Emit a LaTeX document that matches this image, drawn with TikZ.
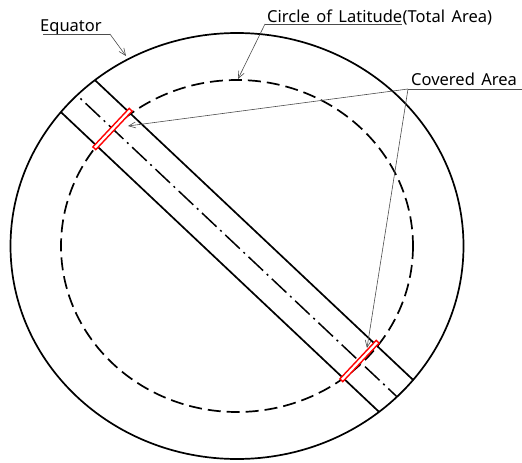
\documentclass[tikz,border=0pt]{standalone}
\usepackage{fontspec}
\setmainfont{Noto Sans}
\usetikzlibrary{arrows.meta,positioning,calc}
\tikzset{
  lbl/.style  ={font=\fontsize{16.5}{19}\selectfont, inner sep=0pt},
  globe/.style={line width=1.7pt},
  lat/.style  ={line width=1.7pt, dash pattern=on 13pt off 6pt},
  band/.style ={line width=1.7pt},
  axis/.style ={line width=1.5pt, dash pattern=on 20pt off 5pt on 2pt off 5pt},
  cover/.style={draw=red, line width=1.4pt, fill=white, minimum width=53pt, minimum height=4pt, inner sep=0pt, rotate=46.7},
  lead/.style ={draw=black!70, line width=0.6pt},
  tip/.style  ={lead, -{Straight Barb[length=7pt, width=6pt]}},
}
\newcommand{\gap}{\hspace{6.5pt}}

\begin{document}
\begin{tikzpicture}[x=1pt, y=-1pt]
  \useasboundingbox (0,0) rectangle (522,463);
  \coordinate (c) at (237,246);

  % equator and latitude circle
  \draw[globe] (c) ellipse [x radius=226.5, y radius=213];
  \draw[lat] (c) ellipse [x radius=176, y radius=166];

  % swath across the globe
  \begin{scope}
    \clip (c) ellipse [x radius=226.5, y radius=213];
    \draw[band] ($(c)+(23.3*0.686,-23.3*0.728)+(-400*0.728,-400*0.686)$) -- ++(800*0.728,800*0.686);
    \draw[band] ($(c)+(-23.3*0.686,23.3*0.728)+(-400*0.728,-400*0.686)$) -- ++(800*0.728,800*0.686);
    \draw[axis] ($(c)+(-400*0.728,-400*0.686)$) -- ++(800*0.728,800*0.686);
  \end{scope}

  % covered areas
  \node[cover] (cv1) at (112.5,129) {};
  \node[cover] (cv2) at (359.5,361) {};

  % labels
  \node[lbl, anchor=base west] (eq) at (40,31) {Equator};
  \node[lbl, anchor=base west] (cl) at (267,22) {Circle\gap of\gap Latitude};
  \node[lbl, anchor=base west] (ta) at (cl.base east) {(Total\gap Area)};
  \node[lbl, anchor=base west] (ca) at (411,85) {Covered\gap Area};

  \coordinate (eqtip) at (126,56);
  \coordinate (cltip) at (238,79);
  \coordinate (cvtip1) at (128,126);
  \coordinate (cvtip2) at (367,348);

  \draw[lead] ($(eq.base west)+(3,3)$) coordinate (eqa) -- ($(eq.base east)+(8,3)$) coordinate (eqb);
  \draw[tip] (eqb) -- (eqtip);
  \draw[lead] ($(cl.base west)+(-2,2)$) coordinate (cla) -- ($(cl.base east)+(0,2)$);
  \draw[tip] (cla) -- (cltip);
  \draw[lead] ($(ca.base west)+(-3,4)$) coordinate (caa) -- (522,89);
  \draw[tip] (caa) -- (cvtip1);
  \draw[tip] (caa) -- (cvtip2);
\end{tikzpicture}
\end{document}
